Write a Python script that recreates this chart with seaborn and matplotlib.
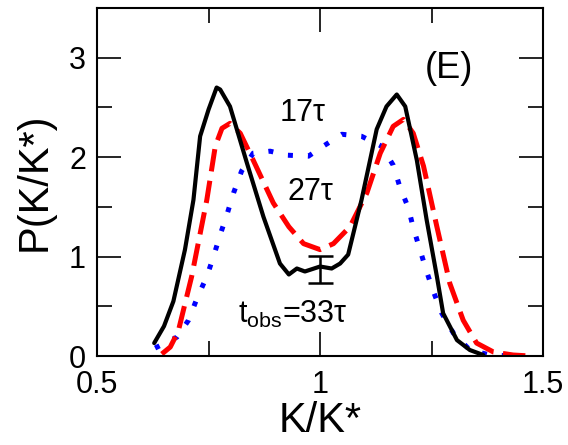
import matplotlib
matplotlib.use("Agg")
import matplotlib.pyplot as plt
import seaborn as sns
import pandas as pd

# ---- data ----
black_x = [0.628, 0.650, 0.671, 0.697, 0.716, 0.731, 0.750, 0.768, 0.776, 0.798, 0.836, 0.873,
           0.910, 0.930, 0.948, 0.966, 1.000, 1.026, 1.045, 1.063, 1.093, 1.127, 1.149, 1.172,
           1.191, 1.217, 1.239, 1.262, 1.276, 1.307, 1.336, 1.366]
black_y = [0.13, 0.30, 0.55, 1.07, 1.57, 2.21, 2.48, 2.70, 2.68, 2.51, 1.94, 1.40,
           0.93, 0.82, 0.88, 0.85, 0.90, 0.88, 0.93, 1.02, 1.57, 2.28, 2.51, 2.63,
           2.51, 1.97, 1.37, 0.80, 0.43, 0.16, 0.06, 0.01]

red_x = [0.645, 0.664, 0.682, 0.712, 0.746, 0.765, 0.780, 0.798, 0.821, 0.850, 0.895, 0.930,
         0.963, 1.000, 1.030, 1.067, 1.105, 1.135, 1.164, 1.187, 1.209, 1.232, 1.262, 1.291,
         1.321, 1.351, 1.389, 1.433, 1.471]
red_y = [0.02, 0.09, 0.25, 0.80, 1.57, 2.11, 2.29, 2.34, 2.24, 1.97, 1.54, 1.30,
         1.13, 1.07, 1.13, 1.30, 1.64, 2.04, 2.31, 2.38, 2.24, 1.91, 1.30, 0.73,
         0.36, 0.13, 0.04, 0.01, 0.0]

blue_x = [0.630, 0.679, 0.705, 0.724, 0.746, 0.761, 0.776, 0.791, 0.806, 0.824, 0.850, 0.888,
          0.925, 0.974, 1.007, 1.049, 1.093, 1.138, 1.164, 1.179, 1.198, 1.209, 1.224, 1.239,
          1.254, 1.273, 1.299, 1.336, 1.381, 1.433]
blue_y = [0.08, 0.19, 0.36, 0.58, 0.80, 1.00, 1.22, 1.42, 1.64, 1.86, 2.04, 2.06,
          2.02, 2.01, 2.11, 2.23, 2.21, 2.11, 1.92, 1.70, 1.49, 1.29, 1.07, 0.85,
          0.65, 0.43, 0.23, 0.06, 0.01, 0.0]

err_x = [1.0]
err_y = [0.87]
err_e = [0.14]

x_ticks = [0.5, 1.0, 1.5]
x_ticklabels = ["0.5", "1", "1.5"]
x_minor = [0.75, 1.25]
y_ticks = [0, 1, 2, 3]
y_ticklabels = ["0", "1", "2", "3"]
y_minor = [0.5, 1.5, 2.5]

labels = {"17": "17τ", "27": "27τ", "33": r"$\mathrm{t_{obs}}$=33τ", "panel": "(E)"}

# ---- style ----
sns.set_style("ticks")
plt.rcParams["font.family"] = ["Liberation Sans", "DejaVu Sans"]
plt.rcParams["mathtext.fontset"] = "custom"
plt.rcParams["mathtext.rm"] = "Liberation Sans"
plt.rcParams["mathtext.it"] = "Liberation Sans"
for k in ["text.color", "axes.labelcolor", "xtick.color", "ytick.color", "axes.edgecolor"]:
    plt.rcParams[k] = "black"
plt.rcParams["axes.linewidth"] = 1.5

fig = plt.figure(figsize=(5.68, 4.45), dpi=100)
ax = fig.add_axes([0.171, 0.2, 0.785, 0.782])

df_b = pd.DataFrame({"x": black_x, "y": black_y})
df_r = pd.DataFrame({"x": red_x, "y": red_y})
df_u = pd.DataFrame({"x": blue_x, "y": blue_y})

sns.lineplot(data=df_u, x="x", y="y", ax=ax, color="#0000ff", lw=3.6,
             linestyle=(0, (1, 3)), estimator=None, sort=False)
sns.lineplot(data=df_r, x="x", y="y", ax=ax, color="#ff0000", lw=3.6,
             linestyle=(0, (4.5, 1.9)), estimator=None, sort=False)
sns.lineplot(data=df_b, x="x", y="y", ax=ax, color="black", lw=3.0,
             estimator=None, sort=False)

ax.errorbar(err_x, err_y, yerr=err_e, fmt="none", ecolor="black",
            elinewidth=1.8, capsize=9, capthick=1.8)

ax.set_xlim(0.5, 1.5)
ax.set_ylim(0, 3.5)
ax.set_xticks(x_ticks)
ax.set_xticklabels(x_ticklabels)
ax.set_xticks(x_minor, minor=True)
ax.set_yticks(y_ticks)
ax.set_yticklabels(y_ticklabels)
ax.set_yticks(y_minor, minor=True)

ax.tick_params(which="both", bottom=True, left=True, top=True, right=True,
               direction="in", width=1.2, color="black")
ax.tick_params(which="major", length=17, labelsize=22, pad=8)
ax.tick_params(which="minor", length=11)
ax.tick_params(axis="x", which="major", pad=10)

ax.set_xlabel("K/K*", fontsize=30, labelpad=1)
ax.set_ylabel("P(K/K*)", fontsize=30, labelpad=10)

ax.text(0.910, 2.36, labels["17"], fontsize=22, ha="left", va="baseline")
ax.text(0.926, 1.57, labels["27"], fontsize=22, ha="left", va="baseline")
ax.text(0.816, 0.33, labels["33"], fontsize=22, ha="left", va="baseline")
ax.text(1.235, 2.80, labels["panel"], fontsize=26, ha="left", va="baseline")

fig.canvas.draw()
fig.savefig("out.png", dpi=100)
